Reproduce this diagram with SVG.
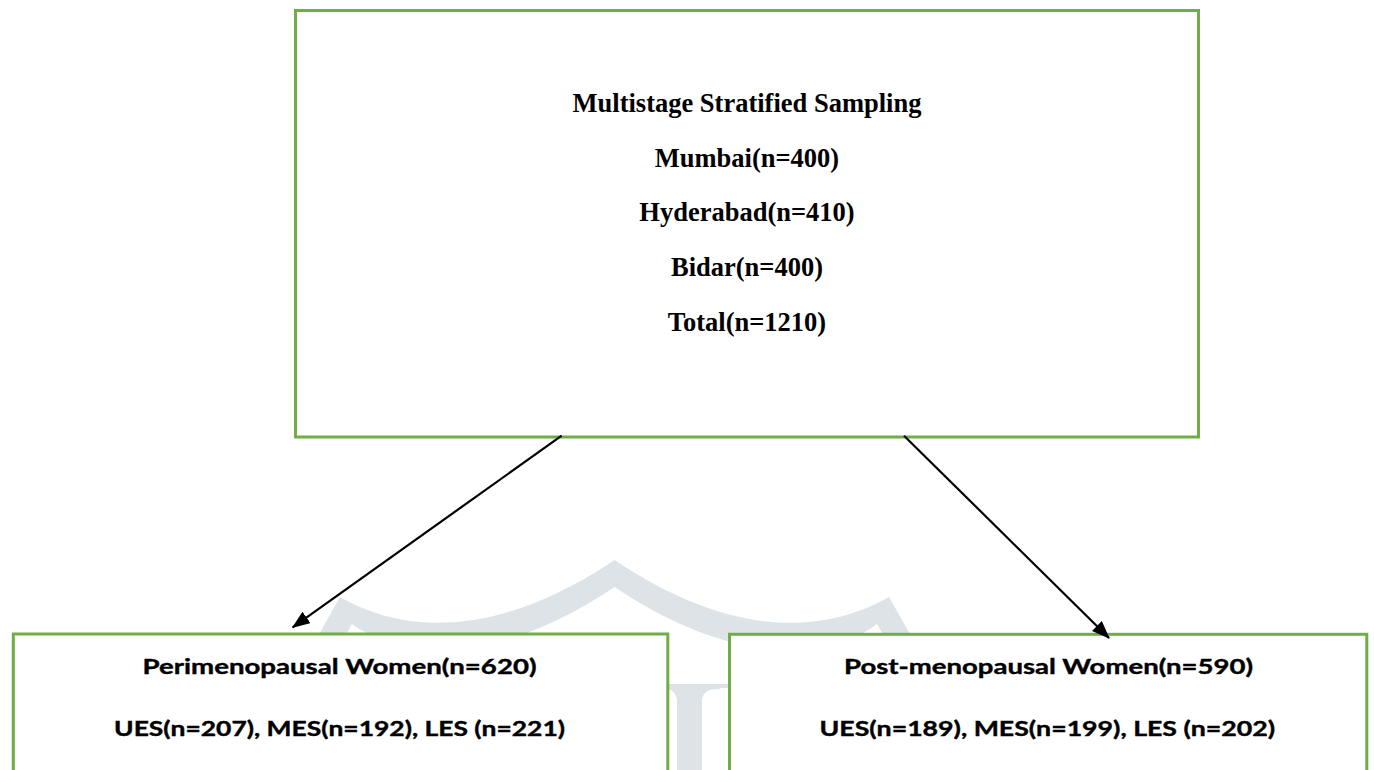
<svg xmlns="http://www.w3.org/2000/svg" width="1374" height="770" viewBox="0 0 1374 770">
  <style>
    .box { fill: #ffffff; stroke: #70ad47; stroke-width: 3; }
    .serif { font-family: "Liberation Serif", "Times New Roman", serif; font-weight: bold; font-size: 26.5px; fill: #000; text-anchor: middle; }
    .sans { font-family: Lato, "Open Sans", "Liberation Sans", sans-serif; font-weight: bold; font-size: 21.5px; fill: #000; stroke: #000; stroke-width: 0.4; text-anchor: middle; }
    .conn { stroke: #000; stroke-width: 2.2; fill: none; }
    .wm { fill: #dde3e7; }
  </style>
  <defs>
    <marker id="arrow" markerUnits="userSpaceOnUse" markerWidth="18" markerHeight="14" refX="17" refY="7" orient="auto">
      <path d="M0,0 L18,7 L0,14 Z" fill="#000"/>
    </marker>
  </defs>
  <rect width="1374" height="770" fill="#ffffff"/>

  <g id="watermark">
    <path class="wm" d="M318,636 L340,597 C390,625 480,650 614.5,560 C749,650 839,625 889,597 L911,636 L884,636 L877,624 C839,652 749,677 614.5,587 C480,677 390,652 352,624 L345,636 Z"/>
    <path class="wm" d="M664,684 L720,684 L720,689 C708,689 703,692 702,700 L702,780 L677,780 L677,700 C676,692 671,689 664,689 Z"/>
    <rect class="wm" x="718" y="684" width="12" height="4"/>
  </g>

  <g id="node-sampling">
    <rect class="box" x="295.5" y="10.5" width="903" height="426.5"/>
    <text class="serif" x="747" y="111.7">Multistage Stratified Sampling</text>
    <text class="serif" x="747" y="166.5">Mumbai(n=400)</text>
    <text class="serif" x="747" y="221.2">Hyderabad(n=410)</text>
    <text class="serif" x="747" y="276">Bidar(n=400)</text>
    <text class="serif" x="747" y="330.7">Total(n=1210)</text>
  </g>

  <g id="node-perimenopausal">
    <rect class="box" x="13.3" y="634" width="654.5" height="150"/>
    <text class="sans" x="339.5" y="674" textLength="394" lengthAdjust="spacingAndGlyphs">Perimenopausal Women(n=620)</text>
    <text class="sans" x="339.5" y="736" textLength="451" lengthAdjust="spacingAndGlyphs">UES(n=207), MES(n=192), LES (n=221)</text>
  </g>

  <g id="node-postmenopausal">
    <rect class="box" x="729.5" y="634.3" width="637.3" height="150"/>
    <text class="sans" x="1048.5" y="674" textLength="409" lengthAdjust="spacingAndGlyphs">Post-menopausal Women(n=590)</text>
    <text class="sans" x="1047.3" y="736" textLength="455.5" lengthAdjust="spacingAndGlyphs">UES(n=189), MES(n=199), LES (n=202)</text>
  </g>

  <g id="connectors">
    <line class="conn" x1="561.7" y1="435.7" x2="292.7" y2="627.3" marker-end="url(#arrow)"/>
    <line class="conn" x1="904" y1="435.7" x2="1109" y2="638" marker-end="url(#arrow)"/>
  </g>
</svg>
